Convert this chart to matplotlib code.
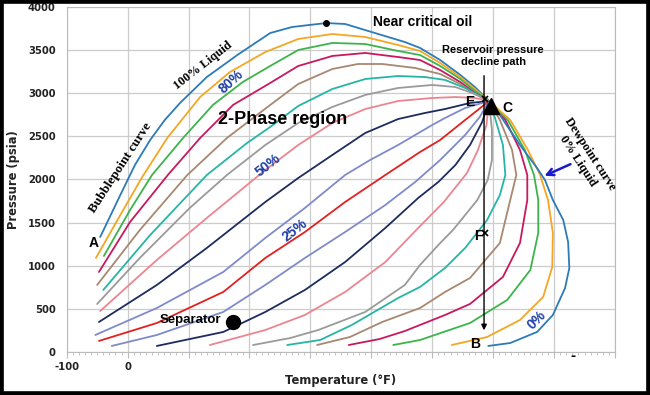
import matplotlib
matplotlib.use("Agg")
import matplotlib.pyplot as plt
from matplotlib.patches import Rectangle
from matplotlib.ticker import MultipleLocator

# liquid-volume quality lines (temperature F, pressure psia)
# each runs from its outer end to the critical point
line01_t = [-45, -12, 12, 37, 61, 86, 130, 180, 234, 270, 326, 357, 406, 455, 480, 513, 546, 570]
line01_p = [1333, 1820, 2168, 2458, 2690, 2887, 3188, 3443, 3698, 3768, 3814, 3803, 3698, 3594, 3525, 3385, 3212, 3072]
line02_t = [-52, -12, 24, 65, 119, 168, 226, 280, 336, 390, 444, 480, 513, 546, 570]
line02_p = [1090, 1588, 2029, 2481, 2956, 3246, 3478, 3629, 3687, 3652, 3559, 3490, 3351, 3188, 3049]
line03_t = [-39, 4, 40, 91, 140, 189, 234, 280, 336, 390, 444, 480, 513, 546, 570]
line03_p = [1113, 1646, 2052, 2481, 2864, 3130, 3316, 3501, 3583, 3571, 3490, 3443, 3316, 3165, 3026]
line04_t = [-47, 4, 66, 119, 173, 234, 280, 336, 390, 444, 480, 513, 546, 570]
line04_p = [928, 1507, 2052, 2481, 2864, 3119, 3316, 3432, 3467, 3420, 3385, 3269, 3130, 3003]
line05_t = [-50, 20, 98, 163, 234, 280, 336, 378, 418, 472, 513, 546, 570]
line05_p = [777, 1414, 2052, 2481, 2864, 3107, 3281, 3339, 3339, 3293, 3223, 3107, 2991]
line06_t = [-40, 37, 130, 196, 234, 280, 336, 390, 444, 488, 521, 554]
line06_p = [719, 1356, 2052, 2423, 2609, 2852, 3049, 3165, 3200, 3188, 3154, 3061]
line07_t = [-50, 20, 102, 163, 226, 280, 336, 390, 444, 500, 538, 570]
line07_p = [557, 1090, 1670, 2052, 2400, 2655, 2841, 2980, 3061, 3096, 3072, 2991]
line08_t = [-45, 48, 130, 226, 280, 336, 390, 444, 500, 538, 570]
line08_p = [475, 1067, 1554, 2110, 2400, 2655, 2817, 2910, 2945, 2956, 2945]
line09_t = [-47, 48, 130, 226, 280, 336, 390, 444, 488, 521, 562]
line09_p = [348, 777, 1206, 1739, 2017, 2284, 2539, 2701, 2771, 2817, 2887]
line10_t = [-53, 48, 157, 226, 291, 357, 398, 444, 500, 521, 554]
line10_p = [197, 510, 928, 1322, 1670, 2052, 2226, 2400, 2632, 2713, 2829]
line11_t = [-47, 48, 157, 226, 291, 357, 423, 480, 513, 554, 583]
line11_p = [128, 336, 696, 1090, 1391, 1739, 2052, 2319, 2458, 2690, 2852]
line12_t = [-26, 48, 157, 226, 291, 357, 423, 472, 513, 554, 578]
line12_p = [70, 197, 464, 777, 1090, 1391, 1704, 1971, 2226, 2516, 2725]
line13_t = [48, 157, 226, 291, 357, 423, 477, 510, 538, 562, 582]
line13_p = [70, 232, 464, 719, 1043, 1438, 1786, 1971, 2168, 2400, 2667]
line14_t = [135, 226, 291, 357, 423, 477, 519, 557, 575, 589]
line14_p = [81, 255, 429, 696, 1043, 1438, 1739, 2075, 2342, 2632]
line15_t = [206, 267, 313, 390, 455, 480, 510, 534, 574, 591, 598, 598]
line15_p = [81, 162, 255, 464, 777, 1009, 1241, 1414, 1762, 1994, 2226, 2574]
line16_t = [262, 316, 368, 444, 480, 521, 554, 590, 611, 620, 616, 603]
line16_p = [81, 139, 313, 626, 754, 974, 1206, 1530, 1820, 2052, 2400, 2713]
line17_t = [311, 365, 418, 480, 521, 562, 611, 628, 638, 631, 611]
line17_p = [81, 174, 348, 510, 696, 858, 1264, 1762, 2052, 2342, 2690]
line18_t = [363, 414, 455, 521, 562, 616, 644, 656, 656, 644, 620]
line18_p = [81, 151, 243, 429, 557, 870, 1264, 1762, 2052, 2342, 2690]
line19_t = [436, 480, 562, 623, 661, 674, 674, 667, 652, 624]
line19_p = [81, 139, 336, 603, 951, 1380, 1762, 2052, 2342, 2690]
line20_t = [532, 590, 644, 682, 697, 698, 690, 677, 657, 628]
line20_p = [81, 174, 371, 638, 985, 1380, 1762, 2052, 2342, 2690]
line21_t = [592, 628, 672, 698, 718, 725, 723, 715, 698, 685, 672, 644, 611]
line21_p = [70, 104, 232, 429, 742, 974, 1275, 1530, 1762, 1994, 2133, 2400, 2748]

crit_t, crit_p = 593, 2910

line_colors = ["#2b7bba", "#f5a623", "#3cb44b", "#c8185e", "#a88870", "#26b5a5",
               "#9a9a9a", "#ec8590", "#1d2c5e", "#7f8acb", "#e3201f", "#7f8acb",
               "#1d2c5e", "#ec8590", "#9a9a9a", "#26b5a5", "#a88870", "#c8185e",
               "#3cb44b", "#f5a623", "#2b7bba"]

x_ticks = list(range(-100, 801, 100))
x_labels = ["-100", "0", "", "", "", "", "", "", "", ""]
y_ticks = list(range(0, 4001, 500))

lines = [(line01_t, line01_p), (line02_t, line02_p), (line03_t, line03_p),
         (line04_t, line04_p), (line05_t, line05_p), (line06_t, line06_p),
         (line07_t, line07_p), (line08_t, line08_p), (line09_t, line09_p),
         (line10_t, line10_p), (line11_t, line11_p), (line12_t, line12_p),
         (line13_t, line13_p), (line14_t, line14_p), (line15_t, line15_p),
         (line16_t, line16_p), (line17_t, line17_p), (line18_t, line18_p),
         (line19_t, line19_p), (line20_t, line20_p), (line21_t, line21_p)]

SANS = "Liberation Sans"
SERIF = "Liberation Serif"
PCT = "#1f3fa8"

fig = plt.figure(figsize=(6.5, 3.95), dpi=100)
ax = fig.add_axes([0.1026, 0.1089, 0.8436, 0.8734])

for (t, p), c in zip(lines, line_colors):
    ax.plot(t + [crit_t], p + [crit_p], color=c, lw=1.3, solid_capstyle="round")

ax.set_xlim(-100, 800)
ax.set_ylim(0, 4000)
ax.set_xticks(x_ticks)
ax.set_xticklabels(x_labels)
ax.set_yticks(y_ticks)
ax.xaxis.set_minor_locator(MultipleLocator(10))
ax.grid(True, color="#cccccc", lw=0.9)
ax.set_axisbelow(True)
for s in ax.spines.values():
    s.set_color("#bbbbbb")
ax.tick_params(axis="x", which="major", length=4, color="#bbbbbb", pad=3)
ax.tick_params(axis="x", which="minor", length=2, color="#bbbbbb")
ax.tick_params(axis="y", length=0, pad=8)
for lab in ax.get_xticklabels() + ax.get_yticklabels():
    lab.set_fontweight("bold")
    lab.set_fontsize(7.2)
    lab.set_color("#222222")

ax.set_xlabel("Temperature (°F)", fontsize=8.3, fontweight="bold", color="#222222", labelpad=1.5)
ax.set_ylabel("Pressure (psia)", fontsize=8.3, fontweight="bold", color="#222222", labelpad=5.5)

# markers
ax.plot([326], [3814], "o", color="black", ms=4)
ax.plot([173], [348], "o", color="black", ms=10)
ax.plot([597], [2855], "^", color="black", ms=11)
ax.plot([586, 586], [2933, 1380], "x", color="black", ms=4, mew=1.2)

# reservoir pressure decline path
ax.annotate("", xy=(585, 220), xytext=(585, 3235),
            arrowprops=dict(arrowstyle="-|>", color="black", lw=1, mutation_scale=8))
ax.annotate("", xy=(680, 2029), xytext=(731, 2191),
            arrowprops=dict(arrowstyle="->", color="#1a1ad0", lw=1.8, mutation_scale=12))

ax.text(403, 3826, "Near critical oil", family=SANS, fontweight="bold", fontsize=10,
        ha="left", va="center")
ax.text(600, 3432, "Reservoir pressure\ndecline path", family=SANS, fontweight="bold",
        fontsize=8, ha="center", va="center", linespacing=1.15)
ax.text(149, 2690, "2-Phase region", family=SANS, fontweight="bold", fontsize=13,
        ha="left", va="center")
ax.text(53, 371, "Separator", family=SANS, fontweight="bold", fontsize=9.5,
        ha="left", va="center")
for txt, tx, ty in [("A", -55, 1264), ("B", 570, 93), ("C", 623, 2829),
                    ("E", 562, 2899), ("F", 575, 1345)]:
    ax.text(tx, ty, txt, family=SANS, fontweight="bold", fontsize=10,
            ha="center", va="center")

ax.text(124, 3322, "100% Liquid", family=SERIF, fontweight="bold", fontsize=9,
        rotation=38, ha="center", va="center", rotation_mode="anchor")
ax.text(-11, 2133, "Bubblepoint curve", family=SERIF, fontweight="bold", fontsize=9.5,
        rotation=57, ha="center", va="center", rotation_mode="anchor")
ax.text(759, 2296, "Dewpoint curve", family=SERIF, fontweight="bold", fontsize=9,
        rotation=-57, ha="center", va="center", rotation_mode="anchor")
ax.text(739, 2214, "0% Liquid", family=SERIF, fontweight="bold", fontsize=9,
        rotation=-57, ha="center", va="center", rotation_mode="anchor")

for txt, tx, ty, rot in [("80%", 170, 3130, 42), ("50%", 230, 2168, 38),
                         ("25%", 275, 1414, 38), ("0%", 671, 371, 45)]:
    ax.text(tx, ty, txt, family=SANS, fontweight="bold", fontsize=10, color=PCT,
            rotation=rot, ha="center", va="center", rotation_mode="anchor")

ax.text(731, -50, "-", fontweight="bold", fontsize=9, ha="center", va="center", clip_on=False)

fig.patches.append(Rectangle((0, 0), 1, 1, transform=fig.transFigure, fill=False,
                             edgecolor="black", linewidth=5.5))

fig.savefig("out.png", dpi=100)
